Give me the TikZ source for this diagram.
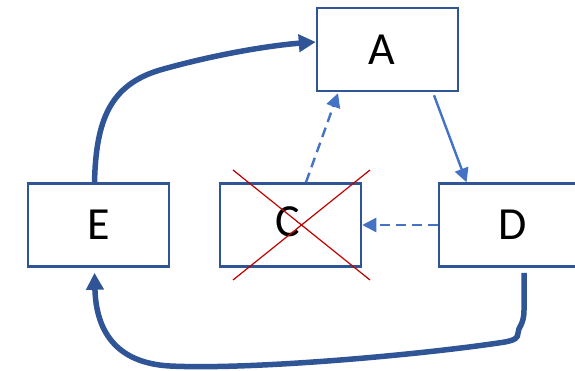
\documentclass[tikz,border=0pt]{standalone}
\usepackage{fontspec}
\setmainfont{Carlito}
\usetikzlibrary{arrows.meta,calc}
\definecolor{boxblue}{HTML}{2F5597}
\definecolor{arrblue}{HTML}{4472C4}
\definecolor{xred}{HTML}{C00000}
\tikzset{
  box/.style={draw=boxblue, line width=2.5pt, fill=white, minimum width=141pt, minimum height=83pt, inner sep=0pt, font=\fontsize{46}{52}\selectfont},
  thickarr/.style={draw=boxblue, line width=5.5pt, -{Triangle[length=17pt,width=17pt]}},
  thinarr/.style={draw=arrblue, line width=2.4pt, -{Triangle[length=14pt,width=14pt]}},
  dasharr/.style={thinarr, dash pattern=on 10pt off 6pt},
  crossline/.style={draw=xred, line width=1.2pt}
}
\begin{document}
\begin{tikzpicture}[x=1pt,y=-1pt]
\useasboundingbox (0,0) rectangle (575,371);
\clip (0,0) rectangle (575,371);
\node[box] (A) at (387.5,49.5) {\hspace*{-12pt}A};
\node[box] (E) at (98.5,225) {E};
\node[box] (C) at (290.5,225) {\hspace*{-5pt}\raisebox{7pt}{C}};
\node[box] (D) at (509.5,225) {\hspace*{6pt}D};
% red cross over C
\draw[crossline] ($(C)+(-57.5,-55)$) -- ($(C)+(79.5,55)$);
\draw[crossline] ($(C)+(79.5,-55)$) -- ($(C)+(-57.5,55)$);
% connectors
\draw[thickarr] ($(E.north)+(-4,0)$) .. controls (96,120) and (110,85) .. (160,70)
   .. controls (220,53) and (275,45) .. ($(A.west)+(0,-7.5)$);
\draw[dasharr] ($(C.north)+(15.5,0)$) -- ($(A.south)+(-49.5,1)$);
\draw[thinarr] ($(A.south)+(46.5,3)$) -- ($(D.north)+(-43,0)$);
\draw[dasharr] (D.west) -- (C.east);
\draw[thickarr] ($(D.south)+(14.5,5)$) -- (524,310) .. controls (524,325) and (518,327) .. (518,333)
   .. controls (518,338) and (515,340) .. (505,342)
   .. controls (420,355) and (250,370) .. (170,366)
   .. controls (115,363) and (96,330) .. ($(E.south)+(-4,5)$);
\end{tikzpicture}
\end{document}
